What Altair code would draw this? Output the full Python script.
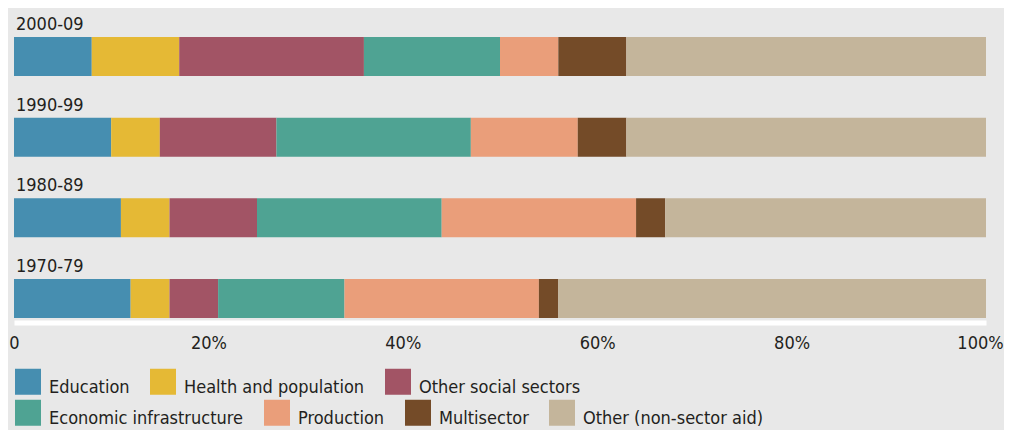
import altair as alt
import pandas as pd

periods = ["2000-09", "1990-99", "1980-89", "1970-79"]
sectors = ["Education", "Health and population", "Other social sectors",
           "Economic infrastructure", "Production", "Multisector",
           "Other (non-sector aid)"]
colors = ["#468EB0", "#E5B935", "#A25465", "#4FA393", "#EA9E7A", "#744B28", "#C4B59B"]

share_2000 = [8, 9, 19, 14, 6, 7, 37]
share_1990 = [10, 5, 12, 20, 11, 5, 37]
share_1980 = [11, 5, 9, 19, 20, 3, 33]
share_1970 = [12, 4, 5, 13, 20, 2, 44]

ticks = [0, 20, 40, 60, 80, 100]

rows = []
for p, vals in zip(periods, [share_2000, share_1990, share_1980, share_1970]):
    for i, (s, v) in enumerate(zip(sectors, vals)):
        rows.append({"period": p, "sector": s, "order": i, "value": v})
df = pd.DataFrame(rows)
labels_df = pd.DataFrame({"period": periods})

FONT = "DejaVu Sans Condensed, Roboto, sans-serif"
TXT = "#231F20"
FS = 18
row1 = sectors[:3]
row2 = sectors[3:]
sym = "M-1,-1.48H1V0.52H-1Z"

yscale = alt.Scale(domain=periods, paddingInner=0.5165, paddingOuter=0.192,
                   align=0.935, round=False)
xscale = alt.Scale(domain=[0, 100], nice=False, zero=True)

base = alt.Chart(df).transform_stack(
    stack="value", as_=["x0", "x1"], groupby=["period"],
    sort=[alt.SortField("order", order="ascending")]
)

xenc = alt.X("x0:Q", scale=xscale, title=None,
             axis=alt.Axis(values=ticks, grid=False, ticks=False, tickSize=0,
                           domainColor="white", domainWidth=5, offset=2.5,
                           labelFont=FONT, labelFontSize=FS, labelColor=TXT,
                           labelPadding=12, labelFlush=False,
                           labelOffset={"condition": {"test": "datum.value == 100", "value": -6},
                                        "value": 0},
                           labelExpr="datum.value == 0 ? '0' : datum.value + '%'"))
yenc = alt.Y("period:N", scale=yscale, axis=None, sort=periods)

leg_common = dict(orient="none", direction="horizontal", title=None,
                  symbolType=sym, symbolSize=676, symbolStrokeWidth=0,
                  labelFont=FONT, labelFontSize=FS, labelColor=TXT,
                  labelOffset=8, columnPadding=20, padding=0,
                  labelLimit=400)

layer1 = base.transform_filter(
    alt.FieldOneOfPredicate(field="sector", oneOf=row1)
).mark_bar().encode(
    x=xenc, x2="x1:Q", y=yenc,
    color=alt.Color("sector:N", scale=alt.Scale(domain=row1, range=colors[:3]),
                    legend=alt.Legend(legendX=1, legendY=367, **leg_common)),
)

layer2 = base.transform_filter(
    alt.FieldOneOfPredicate(field="sector", oneOf=row2)
).mark_bar().encode(
    x=alt.X("x0:Q", scale=xscale), x2="x1:Q", y=yenc,
    fill=alt.Fill("sector:N", scale=alt.Scale(domain=row2, range=colors[3:]),
                  legend=alt.Legend(legendX=1, legendY=398, **leg_common)),
)

labels = alt.Chart(labels_df).mark_text(
    align="left", baseline="alphabetic", font=FONT, fontSize=FS, color=TXT,
    dx=2, yOffset=-26.5
).encode(
    x=alt.datum(0, scale=xscale),
    y=yenc,
    text="period:N",
)

chart = alt.layer(layer1, layer2, labels).properties(
    width=972, height=312,
    background="#E8E8E8",
    padding={"left": 6, "top": 0, "right": 18, "bottom": 110},
    autosize=alt.AutoSizeParams(type="none"),
).configure_view(stroke=None)

chart.save("out.html", embed_options={"renderer": "svg", "actions": False})
